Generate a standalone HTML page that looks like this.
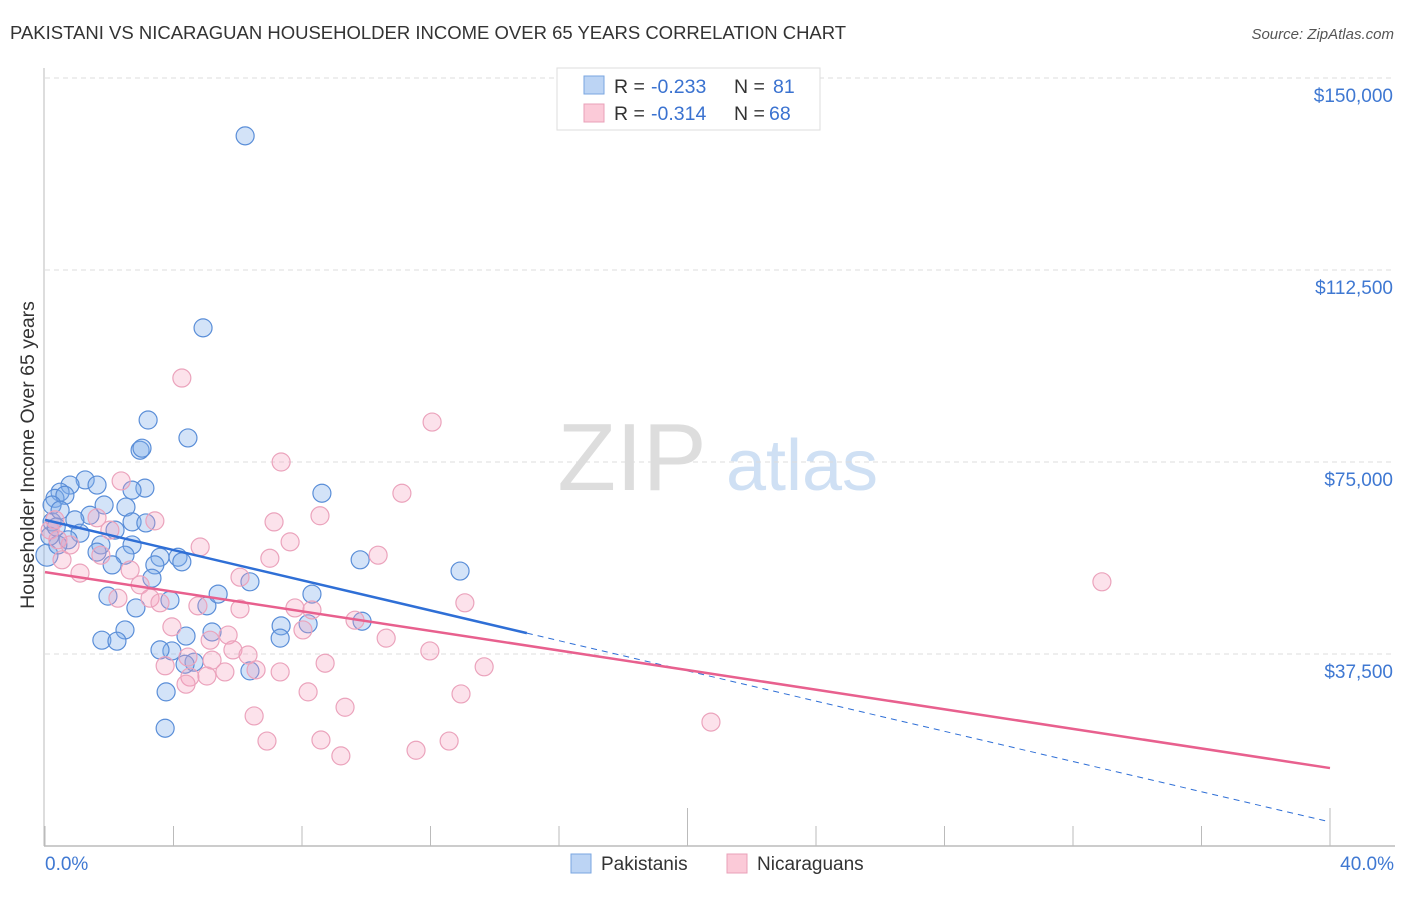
<!DOCTYPE html>
<html><head><meta charset="utf-8"><style>
body{margin:0;background:#fff;font-family:"Liberation Sans",sans-serif;}
svg text{font-family:"Liberation Sans",sans-serif;}
</style></head><body>
<svg id="chart" width="1406" height="892">
<text x="10" y="39" font-size="18.5" fill="#333">PAKISTANI VS NICARAGUAN HOUSEHOLDER INCOME OVER 65 YEARS CORRELATION CHART</text>
<text x="1394" y="39" font-size="15" fill="#555" font-style="italic" text-anchor="end">Source: ZipAtlas.com</text>
<g>
<text x="632" y="490" font-size="96" fill="#ddd" font-family="Liberation Serif" text-anchor="middle">ZIP</text>
<text x="802" y="490" font-size="72" fill="#cfe0f4" text-anchor="middle">atlas</text>
</g>
<g id="grid"></g><g id="axes"></g><g id="pts"></g><g id="lines"></g>
<text transform="translate(34,455) rotate(-90)" font-size="19.5" fill="#333" text-anchor="middle">Householder Income Over 65 years</text>
<g>
<rect x="557" y="68" width="263" height="62" fill="#fff" stroke="#ddd"/>
<rect x="584" y="76" width="20" height="18" fill="#bcd4f4" stroke="#7aa6e0"/>
<rect x="584" y="104" width="20" height="18" fill="#fbcad8" stroke="#eaa0b8"/>
<text x="614" y="93" font-size="19.5" fill="#333">R =</text><text x="651" y="93" font-size="19.5" fill="#3a72d0">-0.233</text><text x="734" y="93" font-size="19.5" fill="#333">N =</text><text x="773" y="93" font-size="19.5" fill="#3a72d0">81</text>
<text x="614" y="120" font-size="19.5" fill="#333">R =</text><text x="651" y="120" font-size="19.5" fill="#3a72d0">-0.314</text><text x="734" y="120" font-size="19.5" fill="#333">N =</text><text x="769" y="120" font-size="19.5" fill="#3a72d0">68</text>
</g>
<g>
<rect x="571" y="854" width="20" height="19" fill="#bcd4f4" stroke="#7aa6e0"/>
<text x="601" y="870" font-size="19" fill="#333">Pakistanis</text>
<rect x="727" y="854" width="20" height="19" fill="#fbcad8" stroke="#eaa0b8"/>
<text x="757" y="870" font-size="19" fill="#333">Nicaraguans</text>
</g>
</svg>
<script>
const yTicks=[37500,75000,112500,150000];
const yTickLabels=["$37,500","$75,000","$112,500","$150,000"];
const xTickLabels=["0.0%","40.0%"];
const pakX=[6.23,4.92,3.21,2.96,3.02,4.45,3.11,2.71,8.62,1.25,0.78,0.47,0.31,0.62,1.62,1.84,2.52,1.40,0.93,2.71,3.14,2.18,1.09,1.74,2.71,1.62,2.49,3.58,4.14,4.26,3.42,2.09,9.81,12.92,3.33,6.38,1.96,3.89,5.04,5.39,8.31,2.83,9.87,7.35,8.19,2.49,5.20,4.39,7.32,1.77,2.24,3.95,3.58,4.64,4.36,6.38,3.77,3.74,0.06,0.22,0.22,0.47,0.72,0.40,0.15,0.35];
const pakY=[138.7,101.2,83.2,77.3,77.7,79.7,69.9,69.5,68.9,71.5,70.5,69.1,67.9,68.5,70.5,66.6,66.2,64.6,63.7,63.3,63.1,61.7,61.1,58.8,58.8,57.4,56.8,56.4,56.4,55.5,54.9,54.9,55.9,53.7,52.3,51.6,48.8,48.0,46.9,49.2,49.2,46.5,43.9,43.0,43.4,42.2,41.8,41.0,40.6,40.2,40.0,38.1,38.3,35.9,35.5,34.2,30.1,23.0,56.8,63.3,66.6,65.6,59.8,58.8,60.5,62.3];
const nicX=[4.26,12.05,7.35,2.37,11.11,8.56,3.42,7.13,1.62,7.63,4.83,2.02,10.37,7.00,1.74,1.09,2.65,32.9,6.07,2.96,3.27,2.27,3.58,13.07,4.76,6.07,7.78,8.31,9.65,3.95,8.03,5.70,5.14,10.62,5.85,6.32,11.98,4.45,8.72,5.20,3.74,6.57,7.32,13.67,5.04,5.60,4.51,4.39,8.19,12.95,9.34,6.51,20.73,6.91,8.59,12.58,11.55,9.21,0.16,0.40,0.53,0.31,0.78];
const nicY=[91.4,82.8,75.0,71.3,68.9,64.5,63.5,63.3,64.1,59.4,58.4,61.7,56.8,56.2,56.8,53.3,53.9,51.6,52.5,51.0,48.4,48.4,47.5,47.5,46.9,46.3,46.5,46.1,44.1,42.8,42.2,41.2,40.2,40.6,38.3,37.3,38.1,36.9,35.7,36.3,35.2,34.4,34.0,35.0,33.2,34.0,33.0,31.6,30.1,29.7,27.1,25.4,24.2,20.5,20.7,20.5,18.7,17.6,61.7,59.8,55.9,63.7,58.8];
const X0=45,X1=1330,Y0=846;
const sx=v=>X0+(v/40)*(X1-X0);
const sy=v=>Y0-(v/37.5)*192;
const NS="http://www.w3.org/2000/svg";
function mk(t,a,p){const e=document.createElementNS(NS,t);for(const k in a)e.setAttribute(k,a[k]);p.appendChild(e);return e;}
const grid=document.getElementById('grid'),axes=document.getElementById('axes');
yTicks.forEach((t,i)=>{const y=sy(t/1000);
const g=mk('line',{x1:45,x2:1395,y1:y,y2:y,stroke:'#ddd','stroke-dasharray':'5,4'},grid);


const l=mk('text',{x:1393,y:y+24,'font-size':19,fill:'#3f78d2','text-anchor':'end'},axes);l.textContent=yTickLabels[i];

});
const ax=mk('line',{x1:44,x2:44,y1:68,y2:846,stroke:'#bbb'},axes);


const bx=mk('line',{x1:44,x2:1395,y1:846,y2:846,stroke:'#bbb','stroke-width':1.5},axes);


for(let i=0;i<=10;i++){const x=sx(i*4);const tk=mk('line',{x1:x,x2:x,y1:(i==5||i==10)?808:826,y2:846,stroke:'#bbb'},axes);

}
[[45,'start',0],[1394,'end',1]].forEach(([x,a,i])=>{const t=mk('text',{x:x,y:870,'font-size':19,fill:'#3f78d2','text-anchor':a},axes);t.textContent=xTickLabels[i];

});
const pts=document.getElementById('pts');
pakX.forEach((v,i)=>{const c=mk('circle',{cx:sx(v),cy:sy(pakY[i]),r:i==58?11:9,fill:'rgba(130,175,235,0.35)',stroke:'#5a8ed8','stroke-width':1.2},pts);

});
nicX.forEach((v,i)=>{const c=mk('circle',{cx:sx(v),cy:sy(nicY[i]),r:9,fill:'rgba(245,160,190,0.3)',stroke:'#eba3bc','stroke-width':1.2},pts);

});
const lines=document.getElementById('lines');
const pf=[-1.475,63.7],nf=[-0.957,53.5];
const pl=mk('line',{x1:sx(0),y1:sy(pf[1]),x2:sx(15),y2:sy(pf[1]+pf[0]*15),stroke:'#2f6fd6','stroke-width':2.5},lines);


const pd=mk('line',{x1:sx(15),y1:sy(pf[1]+pf[0]*15),x2:sx(40),y2:sy(pf[1]+pf[0]*40),stroke:'#2f6fd6','stroke-width':1,'stroke-dasharray':'6,5'},lines);


const nl=mk('line',{x1:sx(0),y1:sy(nf[1]),x2:sx(40),y2:sy(nf[1]+nf[0]*40),stroke:'#e8608e','stroke-width':2.5},lines);


</script>
</body></html>
